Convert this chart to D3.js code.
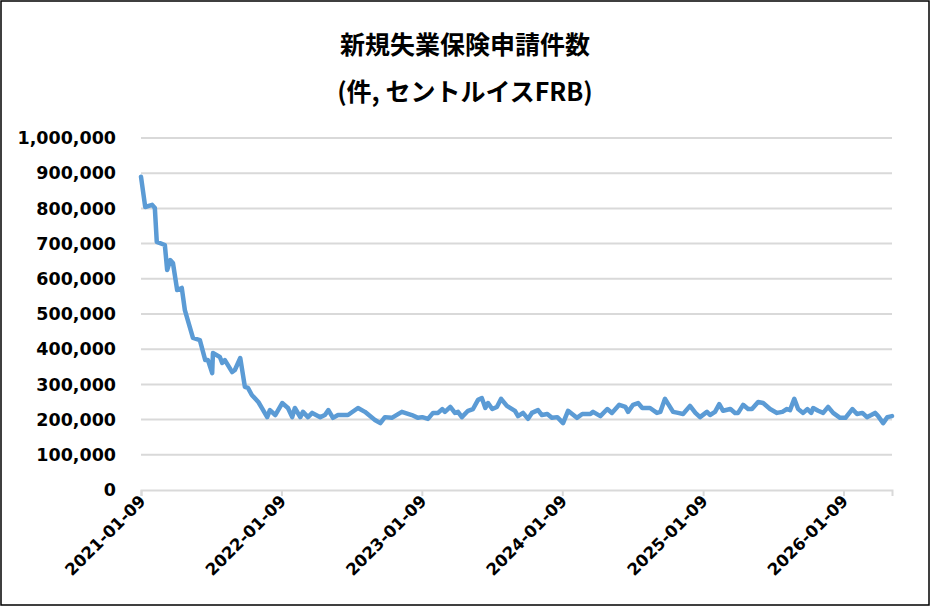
<!DOCTYPE html>
<html><head><meta charset="utf-8">
<script src="https://cdn.jsdelivr.net/npm/d3@7"></script>
<style>body{margin:0;background:#fff}svg{display:block}</style>
</head><body>
<script>
// weeks since 2021-01-09, claims in thousands
var weeks = [0,1.5,4.1,5.2,5.9,8.9,9.7,10.8,11.9,13.4,15.2,16.3,19.3,21.9,23.8,24.9,26.4,26.7,29.3,30.1,31.2,33.8,34.9,36.8,38.6,39.7,41.2,43.5,44.9,46.8,47.9,49.8,52.4,54.6,56.1,57.2,59.1,60.2,62.0,63.5,66.5,68.3,69.5,71.3,73.2,76.9,80.6,83.2,86.9,88.8,90.6,93.2,96.9,100.6,102.9,104.4,106.6,108.4,
  110.3,111.8,112.9,114.8,116.6,117.7,119.2,121.4,123.3,125.2,126.6,127.8,128.9,130.4,132.2,133.7,135.9,138.9,140.0,141.9,143.7,145.2,147.4,148.9,150.8,152.6,154.5,156.7,158.6,161.9,163.8,166.8,167.9,170.5,173.1,174.9,177.5,179.8,180.9,182.7,184.6,186.1,189.0,191.6,192.8,194.6,
  197.6,199.4,201.3,203.9,205.8,207.6,210.2,211.3,213.2,214.7,216.2,218.8,220.6,221.7,223.6,225.4,226.9,229.2,231.0,233.6,236.2,238.1,239.9,241.0,242.5,244.0,245.9,247.4,248.8,249.6,251.4,253.3,255.2,257.0,259.6,261.5,264.1,265.9,267.8,269.6,271.1,272.6,273.7,275.6,277.1,278.9];
var claims = [890,804,810,801,705,696,625,653,645,568,574,511,432,426,369,369,332,389,378,361,369,335,341,375,293,290,270,250,233,207,227,213,247,233,207,233,207,222,207,219,207,213,227,205,213,213,233,222,199,190,207,205,222,213,205,207,202,219,
  219,230,222,236,219,222,207,225,230,256,261,233,247,230,236,259,239,225,210,219,202,219,227,213,216,205,207,190,225,205,216,216,222,210,230,219,242,236,222,242,247,233,233,219,222,259,
  222,219,216,239,219,207,222,213,222,244,225,230,219,219,242,230,230,250,247,230,219,222,230,227,259,230,219,230,219,233,225,219,236,219,205,205,230,216,219,207,213,219,210,190,207,210];
var yTicks = [0,100000,200000,300000,400000,500000,600000,700000,800000,900000,1000000];
var xTicks = ["2021-01-09","2022-01-09","2023-01-09","2024-01-09","2025-01-09","2026-01-09"];
var titleLines = ["新規失業保険申請件数", "(件, セントルイスFRB)"];

var W = 930, H = 606;
var parse = d3.timeParse("%Y-%m-%d");
var start = parse("2021-01-09");
var data = weeks.map(function(w, i){ return {date: d3.timeDay.offset(start, Math.round(w*7)), v: claims[i]*1000}; });

var svg = d3.select("body").append("svg").attr("width", W).attr("height", H)
  .style("font-family", "'DejaVu Sans', Verdana, sans-serif");
svg.append("rect").attr("x",1).attr("y",1).attr("width",W-2).attr("height",H-2)
  .attr("fill","#fff").attr("stroke","#000").attr("stroke-width",1.5);

svg.selectAll("text.title").data(titleLines).enter().append("text")
  .attr("x", 465).attr("y", function(d,i){ return 54 + i*47; })
  .attr("text-anchor","middle").attr("font-weight","bold").attr("font-size",25)
  .style("font-family","'Noto Sans CJK JP', sans-serif").text(function(d){ return d; });

// ~140.5px per year from 2021-01-09
var x = d3.scaleTime().domain([start, d3.timeDay.offset(start, Math.round(751/140.5*365.25))]).range([141, 892]);
var y = d3.scaleLinear().domain([0,1000000]).range([490,138]);

svg.append("g").selectAll("line").data(yTicks.slice(1)).enter().append("line")
  .attr("x1",141).attr("x2",892).attr("y1",y).attr("y2",y)
  .attr("stroke","#d9d9d9").attr("stroke-width",2);

var ya = svg.append("g").attr("transform","translate(141,0)")
  .call(d3.axisLeft(y).tickValues(yTicks).tickFormat(d3.format(",")).tickSize(0).tickPadding(25));
ya.select(".domain").remove();
ya.selectAll("text").attr("font-size",17.5).attr("font-weight","bold").attr("fill","#000")
  .style("font-family","'DejaVu Sans', sans-serif");

var xa = svg.append("g").attr("transform","translate(0,490)")
  .call(d3.axisBottom(x).tickValues(xTicks.map(parse)).tickFormat(d3.timeFormat("%Y-%m-%d")).tickSize(6));
xa.select(".domain").attr("stroke","#d9d9d9").attr("stroke-width",2);
xa.selectAll("line").attr("stroke","#d9d9d9").attr("stroke-width",2);
xa.selectAll("text").attr("font-size",16.5).attr("font-weight","bold").attr("fill","#000")
  .style("font-family","'DejaVu Sans', sans-serif")
  .attr("text-anchor","end").attr("dx","-0.3em").attr("dy","0.2em")
  .attr("transform","rotate(-45)");

svg.append("path").datum(data)
  .attr("fill","none").attr("stroke","#5b9bd5").attr("stroke-width",4.5)
  .attr("stroke-linejoin","round").attr("stroke-linecap","round")
  .attr("d", d3.line().x(function(d){ return x(d.date); }).y(function(d){ return y(d.v); }));
</script>
</body></html>
